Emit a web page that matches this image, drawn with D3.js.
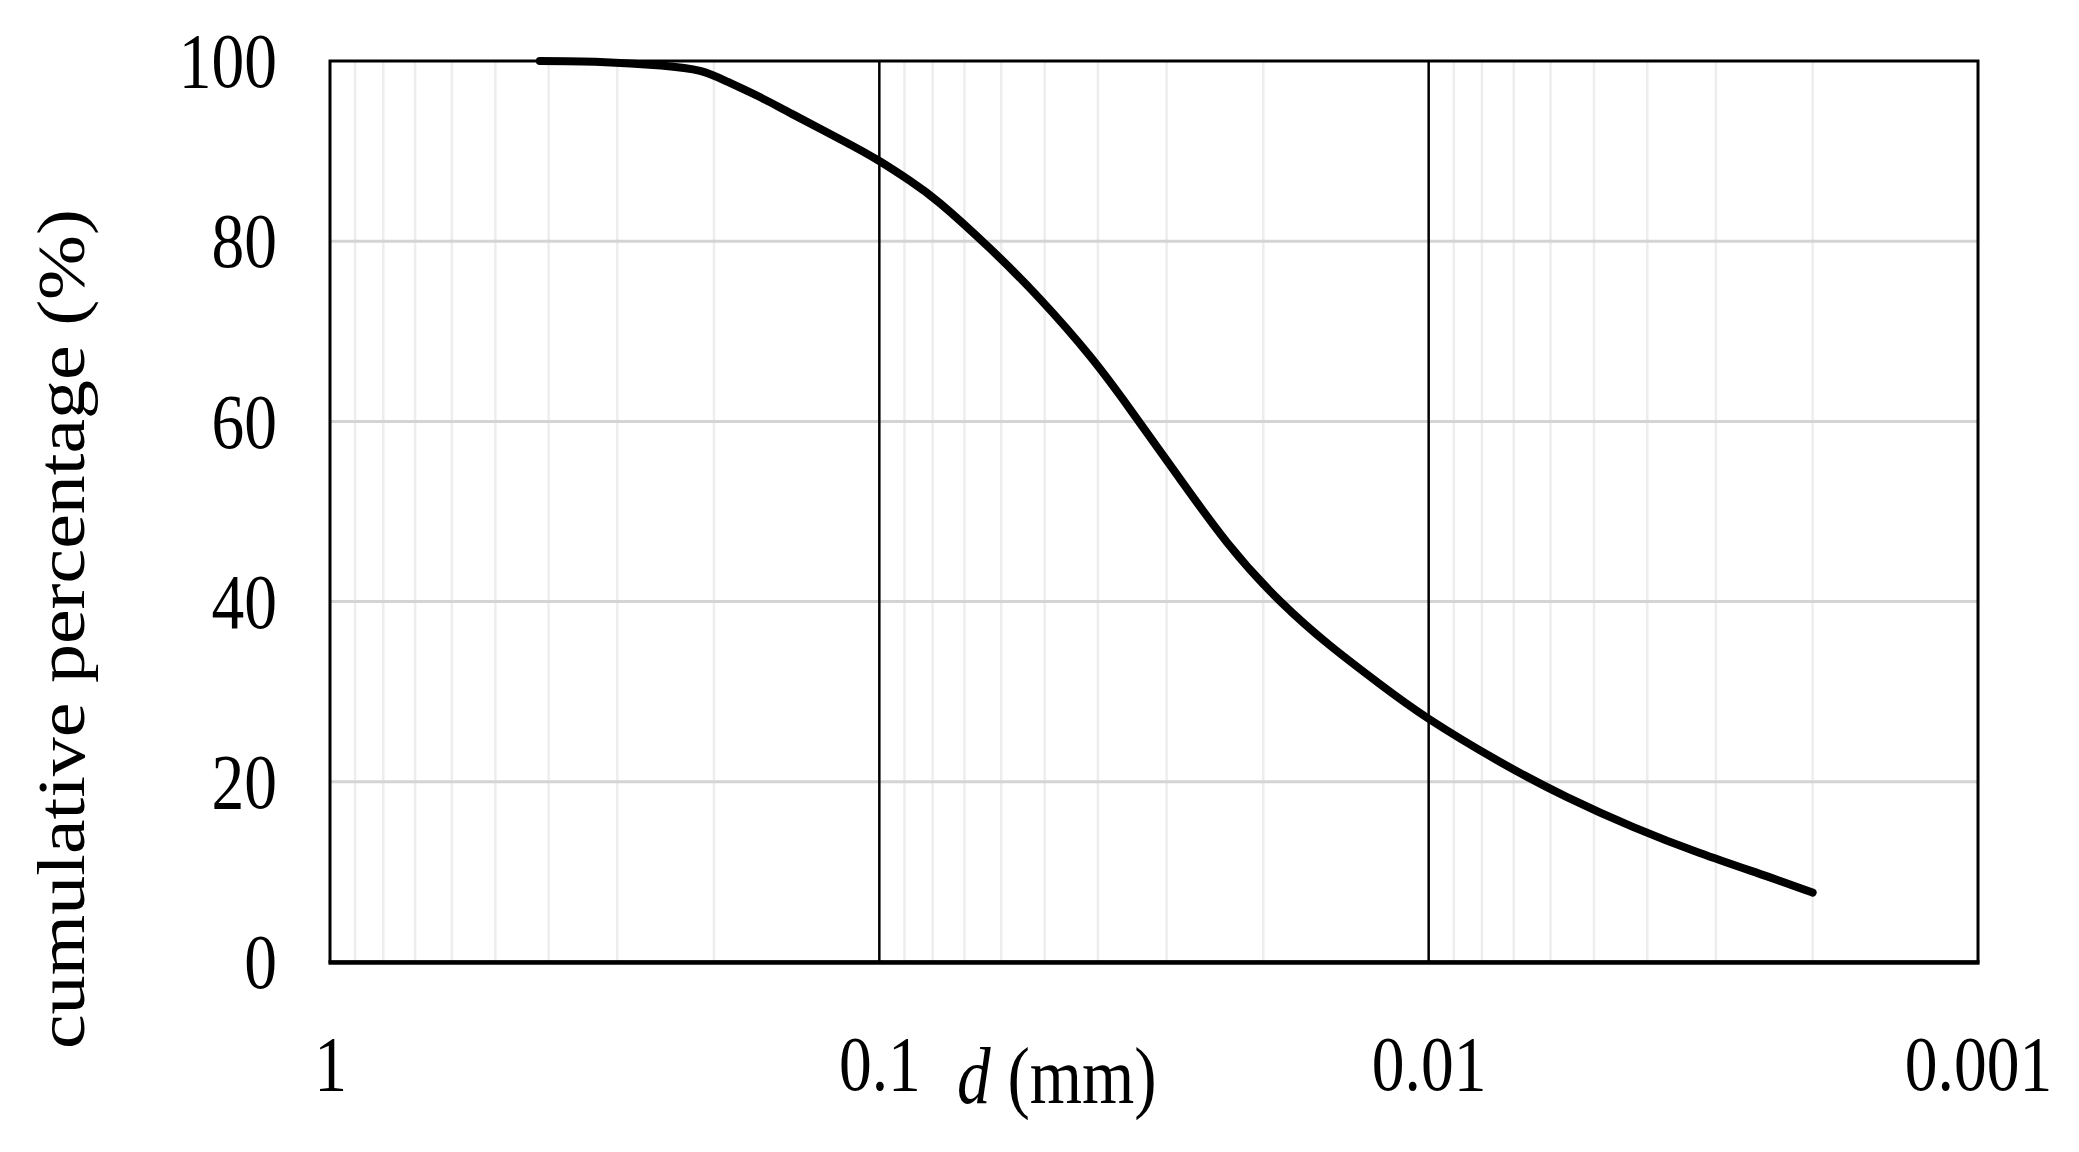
<!DOCTYPE html>
<html>
<head>
<meta charset="utf-8">
<script src="https://cdn.jsdelivr.net/npm/d3@7"></script>
<style>
  html, body { margin: 0; padding: 0; background: #fff; }
  svg { display: block; }
  text { font-family: "Liberation Serif", "Times New Roman", serif; fill: #000; }
</style>
</head>
<body>
<svg id="chart" width="2079" height="1152"></svg>
<script>
// particle size (mm), coarse to fine
const diameters = [0.415, 0.322, 0.25, 0.212, 0.189, 0.165, 0.144, 0.116, 0.1, 0.0879, 0.0775, 0.0629,
  0.051, 0.0413, 0.035, 0.0292, 0.0233, 0.0186, 0.0151, 0.0123, 0.01, 0.00741, 0.0056, 0.00425,
  0.00321, 0.00242, 0.002]
// cumulative passing (%)
const cumulative = [100, 99.9, 99.5, 98.9, 97.7, 96.0, 94.1, 91.1, 88.9, 86.7, 84.2, 79.2,
  73.6, 67.2, 61.4, 54.7, 46.6, 40.0, 35.1, 30.9, 27.0, 22.2, 18.3, 15.0,
  12.1, 9.5, 7.7]

const xTicks = [1, 0.1, 0.01, 0.001]
const xTickLabels = ['1', '0.1', '0.01', '0.001']
const yTicks = [0, 20, 40, 60, 80, 100]
const yTickLabels = ['0', '20', '40', '60', '80', '100']
const minorSteps = [2, 3, 4, 5, 6, 7, 8, 9]

const plotLeft = 330
const plotRight = 1978
const plotTop = 61
const plotBottom = 962
const squish = 0.84

const x = d3.scaleLog()
    .domain([1, 0.001])
    .range([plotLeft, plotRight])

const y = d3.scaleLinear()
    .domain([0, 100])
    .range([plotBottom, plotTop])

const svg = d3.select('#chart')

// minor decade gridlines
const minor = []
xTicks.slice(1).forEach(t => minorSteps.forEach(m => minor.push(t * m)))

svg.append('g')
    .selectAll('line')
    .data(minor)
    .join('line')
    .attr('x1', d => x(d))
    .attr('x2', d => x(d))
    .attr('y1', plotTop)
    .attr('y2', plotBottom)
    .attr('stroke', '#ededed')
    .attr('stroke-width', 2.5)

// horizontal gridlines
svg.append('g')
    .selectAll('line')
    .data(yTicks.slice(1, -1))
    .join('line')
    .attr('x1', plotLeft)
    .attr('x2', plotRight)
    .attr('y1', d => y(d))
    .attr('y2', d => y(d))
    .attr('stroke', '#d4d4d4')
    .attr('stroke-width', 3)

// major decade lines
svg.append('g')
    .selectAll('line')
    .data(xTicks.slice(1, -1))
    .join('line')
    .attr('x1', d => x(d))
    .attr('x2', d => x(d))
    .attr('y1', plotTop)
    .attr('y2', plotBottom)
    .attr('stroke', '#000')
    .attr('stroke-width', 2.5)

// frame
svg.append('rect')
    .attr('x', plotLeft)
    .attr('y', plotTop)
    .attr('width', plotRight - plotLeft)
    .attr('height', plotBottom - plotTop)
    .attr('fill', 'none')
    .attr('stroke', '#000')
    .attr('stroke-width', 3)

svg.append('line')
    .attr('x1', plotLeft - 1.5)
    .attr('x2', plotRight + 1.5)
    .attr('y1', plotBottom + 0.5)
    .attr('y2', plotBottom + 0.5)
    .attr('stroke', '#000')
    .attr('stroke-width', 4.5)

// curve
const points = diameters.map((d, i) => [d, cumulative[i]])

const line = d3.line()
    .x(d => x(d[0]))
    .y(d => y(d[1]))
    .curve(d3.curveNatural)

svg.append('path')
    .datum(points)
    .attr('d', line)
    .attr('fill', 'none')
    .attr('stroke', '#000')
    .attr('stroke-width', 8)
    .attr('stroke-linecap', 'round')
    .attr('stroke-linejoin', 'round')

// axes (labels only)
const xAxis = d3.axisBottom(x)
    .tickValues(xTicks)
    .tickFormat((d, i) => xTickLabels[i])
    .tickSize(0)

const gx = svg.append('g')
    .attr('transform', `translate(0,${plotBottom})`)
    .call(xAxis)

gx.select('.domain').remove()
gx.selectAll('text')
    .attr('y', 128)
    .attr('dy', 0)
    .attr('font-size', 78)
    .attr('font-family', '"Liberation Serif", serif')
    .attr('fill', '#000')
    .attr('transform', `scale(${squish},1)`)

const yAxis = d3.axisLeft(y)
    .tickValues(yTicks)
    .tickFormat((d, i) => yTickLabels[i])
    .tickSize(0)

const gy = svg.append('g')
    .attr('transform', `translate(${plotLeft},0)`)
    .call(yAxis)

gy.select('.domain').remove()
gy.selectAll('text')
    .attr('x', -(plotLeft - 277) / squish)
    .attr('dy', '0.33em')
    .attr('font-size', 78)
    .attr('font-family', '"Liberation Serif", serif')
    .attr('fill', '#000')
    .attr('transform', `scale(${squish},1)`)

// axis titles
const xTitle = svg.append('text')
    .attr('transform', `translate(957,1103) scale(${squish},1)`)
    .attr('font-size', 80)

xTitle.append('tspan')
    .attr('font-style', 'italic')
    .text('d')

xTitle.append('tspan')
    .text(' (mm)')

svg.append('text')
    .attr('transform', `translate(84,1049) scale(0.88,1) rotate(-90)`)
    .attr('font-size', 78)
    .text('cumulative percentage (%)')
</script>
</body>
</html>
